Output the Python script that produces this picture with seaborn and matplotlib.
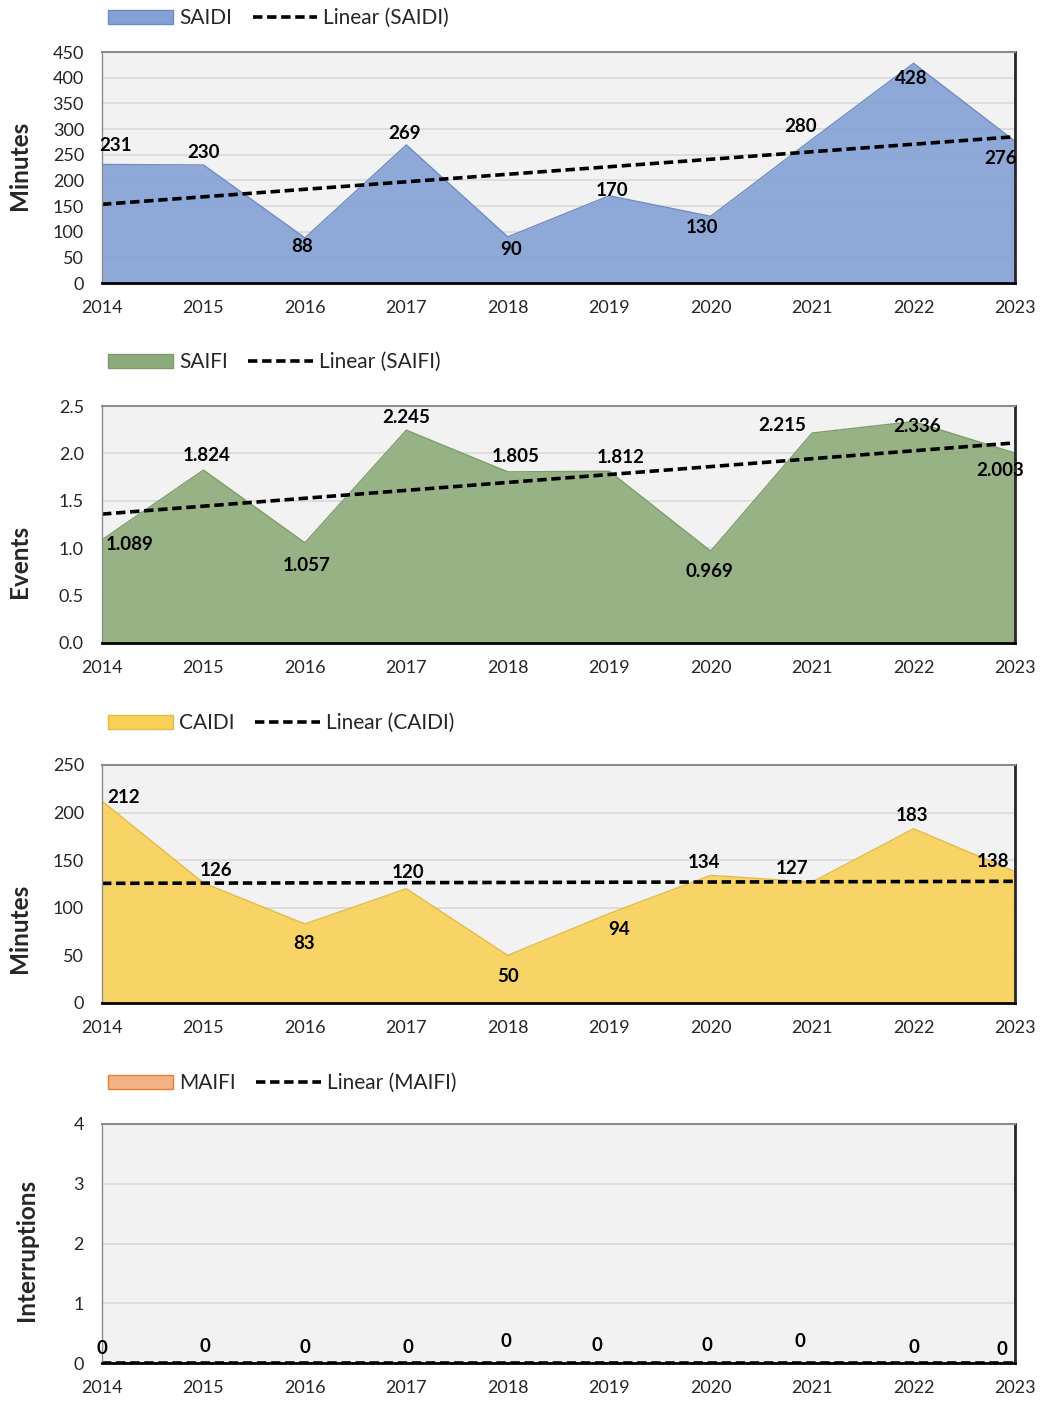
import numpy as np
import pandas as pd
import matplotlib
matplotlib.use('Agg')
import matplotlib.pyplot as plt
import seaborn as sns
from matplotlib.patches import Patch
from matplotlib.lines import Line2D
from matplotlib.ticker import FormatStrFormatter

# data
years = [2014, 2015, 2016, 2017, 2018, 2019, 2020, 2021, 2022, 2023]
saidi = [231, 230, 88, 269, 90, 170, 130, 280, 428, 276]
saifi = [1.089, 1.824, 1.057, 2.245, 1.805, 1.812, 0.969, 2.215, 2.336, 2.003]
caidi = [212, 126, 83, 120, 50, 94, 134, 127, 183, 138]
maifi = [0, 0, 0, 0, 0, 0, 0, 0, 0, 0]

series_names = ['SAIDI', 'SAIFI', 'CAIDI', 'MAIFI']
axis_titles = ['Minutes', 'Events', 'Minutes', 'Interruptions']
y_max = [450, 2.5, 250, 4]
y_step = [50, 0.5, 50, 1]
label_fmt = ['{:.0f}', '{:.3f}', '{:.0f}', '{:.0f}']

# styling
fill_colors = ['#83A1D5', '#8DAB78', '#F8D156', '#F4B183']
edge_colors = ['#6F8CC2', '#7E9C69', '#E3BC45', '#ED7D31']

# panel boxes in figure fraction: left, bottom, width, height
panel_boxes = [
    (0.0979, 0.7981, 0.8762, 0.1648),
    (0.0979, 0.5414, 0.8762, 0.1690),
    (0.0979, 0.2846, 0.8762, 0.1698),
    (0.0979, 0.0278, 0.8762, 0.1705),
]
legend_y = [1 - 18 / 1402, 1 - 362 / 1402, 1 - 723 / 1402, 1 - 1083 / 1402]
ylabel_pos = [(-0.078, 0.51), (-0.078, 0.342), (-0.078, 0.315), (-0.070, 0.473)]

# data label offsets (pixels) relative to each point
label_offsets = [
    [(13, 19), (0, 12), (-3, -9), (-2, 11), (3, -13), (3, 5), (-9, -11), (-12, 13), (-2, -15), (-14, -17)],
    [(28, -5), (3, 15), (2, -23), (0, 13), (8, 15), (11, 14), (-1, -20), (-30, 8), (3, -5), (-15, -17)],
    [(22, 4), (13, 13), (-1, -20), (2, 16), (0, -21), (10, -16), (-7, 13), (-20, 14), (-2, 13), (-22, 10)],
    [(0, 15), (1, 17), (0, 16), (2, 16), (-2, 22), (-12, 18), (-4, 18), (-12, 22), (0, 16), (-13, 14)],
]

sns.set_style('white')
plt.rcParams['font.family'] = ['Lato', 'DejaVu Sans']
text_color = '#262626'

fig = plt.figure(figsize=(10.42, 14.02), dpi=100)

all_values = [saidi, saifi, caidi, maifi]
for i, (name, values) in enumerate(zip(series_names, all_values)):
    ax = fig.add_axes(panel_boxes[i])
    df = pd.DataFrame({'Year': years, name: values})

    ax.set_facecolor('#F2F2F2')
    ax.fill_between(df['Year'], df[name], color=fill_colors[i], alpha=0.9, lw=0, zorder=2)
    sns.lineplot(data=df, x='Year', y=name, ax=ax, color=edge_colors[i], lw=1, zorder=2.2)
    sns.regplot(data=df, x='Year', y=name, ax=ax, scatter=False, ci=None, truncate=True,
                line_kws=dict(color='black', lw=2.6, dashes=(2.6, 1.3), zorder=2.4))

    for x, v, off in zip(df['Year'], df[name], label_offsets[i]):
        ax.annotate(label_fmt[i].format(v), (x, v), xytext=off, textcoords='offset pixels',
                    ha='center', va='center', fontsize=13.5, fontweight='bold',
                    color='black', zorder=6, annotation_clip=False)

    ax.set_xlim(years[0], years[-1])
    ax.set_ylim(0, y_max[i])
    ax.set_xticks(years)
    ax.set_xticklabels([str(y) for y in years])
    ax.set_yticks(np.arange(0, y_max[i] + y_step[i] / 2, y_step[i]))
    if i == 1:
        ax.yaxis.set_major_formatter(FormatStrFormatter('%.1f'))

    ax.tick_params(axis='x', direction='inout', length=8.5, width=1.2, pad=8,
                   labelsize=13, colors='black', labelcolor=text_color)
    ax.tick_params(axis='y', length=0, pad=13, labelsize=13, labelcolor=text_color)

    ax.yaxis.grid(True, color='#D9D9D9', lw=1.2)
    ax.set_axisbelow(True)

    ax.spines['left'].set_color('#8C8C8C')
    ax.spines['left'].set_linewidth(1)
    ax.spines['top'].set_color('#8C8C8C')
    ax.spines['top'].set_linewidth(1.5)
    ax.spines['right'].set_color('#262626')
    ax.spines['right'].set_linewidth(2)
    ax.spines['bottom'].set_color('black')
    ax.spines['bottom'].set_linewidth(2)

    ax.set_xlabel('')
    ax.set_ylabel(axis_titles[i], fontsize=17.5, fontweight='bold', color=text_color)
    ax.yaxis.set_label_coords(*ylabel_pos[i])

    handles = [Patch(facecolor=fill_colors[i], edgecolor=edge_colors[i], lw=1),
               Line2D([0], [0], color='black', lw=2.6, dashes=(2.6, 1.3))]
    ax.legend(handles, [name, f'Linear ({name})'], loc='center left',
              bbox_to_anchor=(108 / 1042, legend_y[i]), bbox_transform=fig.transFigure,
              ncol=2, frameon=False, fontsize=15, handlelength=3.1, handleheight=0.65,
              handletextpad=0.3, columnspacing=1.0, borderpad=0, borderaxespad=0,
              labelcolor=text_color)

fig.savefig('out.png', dpi=100)
